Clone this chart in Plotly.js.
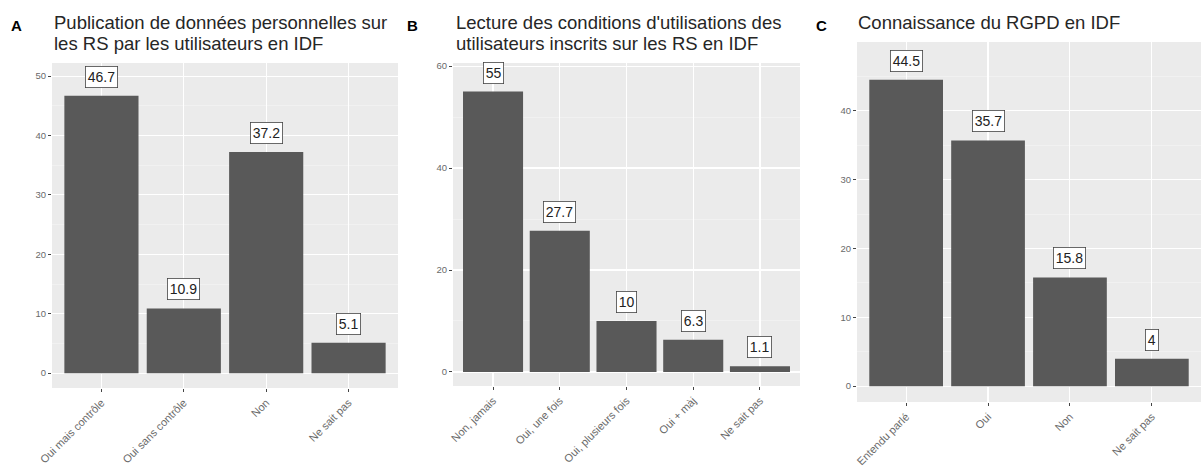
<!DOCTYPE html>
<html><head><meta charset="utf-8">
<script src="https://cdn.plot.ly/plotly-3.0.1.min.js"></script>
<style>body{margin:0;background:#fff}#chart{width:1201px;height:471px}</style>
</head><body><div id="chart"></div>
<script>
const catsA = ["Oui mais contrôle", "Oui sans contrôle", "Non", "Ne sait pas"];
const valsA = [46.7, 10.9, 37.2, 5.1];
const catsB = ["Non, jamais", "Oui, une fois", "Oui, plusieurs fois", "Oui + màj", "Ne sait pas"];
const valsB = [55, 27.7, 10, 6.3, 1.1];
const catsC = ["Entendu parlé", "Oui", "Non", "Ne sait pas"];
const valsC = [44.5, 35.7, 15.8, 4];
const titleA = ["Publication de données personnelles sur", "les RS par les utilisateurs en IDF"];
const titleB = ["Lecture des conditions d'utilisations des", "utilisateurs inscrits sur les RS en IDF"];
const titleC = ["Connaissance du RGPD en IDF"];
const ticksA = [0, 10, 20, 30, 40, 50];
const ticksB = [0, 20, 40, 60];
const ticksC = [0, 10, 20, 30, 40];

const W = 1201, H = 471;
const barColor = "#595959";
const panels = [
  {cats: catsA, vals: valsA, ticks: ticksA, xd: [52, 398], yd: [388, 63], range: [-2.5, 52.2], minor: 5, title: titleA, letter: "A", lx: 16, tx: 52, xa: "x", ya: "y"},
  {cats: catsB, vals: valsB, ticks: ticksB, xd: [453, 800], yd: [386, 63], range: [-2.75, 60.6], minor: 10, title: titleB, letter: "B", lx: 412, tx: 454, xa: "x2", ya: "y2"},
  {cats: catsC, vals: valsC, ticks: ticksC, xd: [857, 1201], yd: [402, 42], range: [-2.3, 50.0], minor: 5, title: titleC, letter: "C", lx: 822, tx: 856, xa: "x3", ya: "y3"}
];

const data = [];
const layout = {
  width: W, height: H, margin: {l: 0, r: 0, t: 0, b: 0},
  paper_bgcolor: "#fff", plot_bgcolor: "#ebebeb", showlegend: false,
  font: {family: "Liberation Sans, Arial, sans-serif", color: "#4d4d4d"},
  annotations: [], shapes: []
};

panels.forEach((p, i) => {
  const sfx = i === 0 ? "" : String(i + 1);
  data.push({type: "bar", x: p.cats, y: p.vals, xaxis: p.xa, yaxis: p.ya,
    marker: {color: barColor, line: {width: 0}}, width: 0.9, hoverinfo: "skip"});
  layout["xaxis" + sfx] = {
    domain: [p.xd[0] / W, p.xd[1] / W], anchor: p.ya,
    type: "category", range: [-0.6, p.cats.length - 0.4],
    showgrid: true, gridcolor: "#ffffff", gridwidth: 1.1, zeroline: false,
    ticks: "outside", ticklen: 3, tickcolor: "#444", tickwidth: 1,
    tickangle: -45, tickfont: {size: 11, color: "#6a6a6a"}, showline: false, fixedrange: true
  };
  layout["yaxis" + sfx] = {
    domain: [1 - p.yd[0] / H, 1 - p.yd[1] / H], anchor: p.xa,
    range: p.range, tickvals: p.ticks, showgrid: true, gridcolor: "#ffffff", gridwidth: 1.1,
    minor: {dtick: p.minor, tick0: p.minor, showgrid: true, gridcolor: "#f7f7f7", gridwidth: 0.5, ticks: ""},
    zeroline: false, ticks: "outside", ticklen: 3, tickcolor: "#444", tickwidth: 1,
    tickfont: {size: 9.5, color: "#6a6a6a"}, showline: false, fixedrange: true
  };
  p.cats.forEach((c, j) => {
    layout.annotations.push({xref: p.xa, yref: p.ya, x: c, y: p.vals[j], yanchor: "bottom",
      yshift: 8, text: String(p.vals[j]), showarrow: false,
      font: {size: 14, color: "#222"}, bgcolor: "#fff", bordercolor: "#444", borderwidth: 0.8, borderpad: 2});
  });
  layout.annotations.push({xref: "paper", yref: "paper", x: p.lx / W, y: 1 - 26 / H,
    xanchor: "center", yanchor: "middle", text: "<b>" + p.letter + "</b>", showarrow: false,
    font: {size: 15, color: "#000"}});
  p.title.forEach((line, k) => {
    layout.annotations.push({xref: "paper", yref: "paper", x: p.tx / W, y: 1 - (23 + 21 * k) / H,
      xanchor: "left", yanchor: "middle", align: "left", text: line, showarrow: false,
      font: {size: 18.5, color: "#262626"}});
  });
});

Plotly.newPlot("chart", data, layout, {displayModeBar: false, staticPlot: true});
</script></body></html>
